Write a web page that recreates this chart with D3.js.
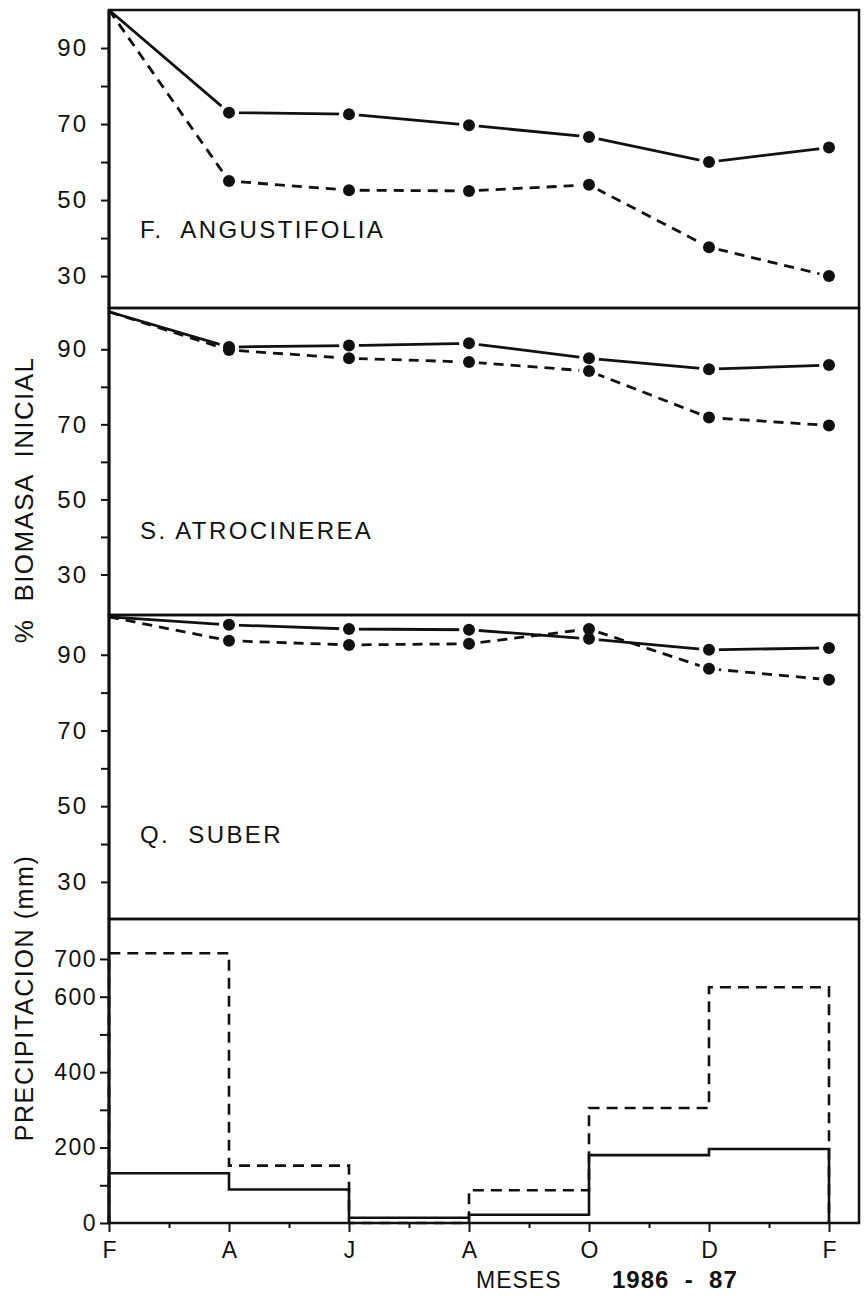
<!DOCTYPE html>
<html>
<head>
<meta charset="utf-8">
<script src="https://cdnjs.cloudflare.com/ajax/libs/d3/7.8.5/d3.min.js"></script>
<style>
  body { margin: 0; background: #fff; }
  svg text { font-family: "Liberation Sans", Arial, sans-serif; fill: #111; }
</style>
</head>
<body>
<div id="chart"></div>
<script>
// months since Feb 1986, one point every two months
var months = [0, 2, 4, 6, 8, 10, 12];
var monthLabels = ["F", "A", "J", "A", "O", "D", "F"];

// % biomasa inicial (solid / dashed)
var angSolid  = [100, 73.0, 72.6, 69.7, 66.6, 60.0, 63.8];
var angDashed = [100, 55.0, 52.6, 52.4, 54.0, 37.6, 30.0];
var atrSolid  = [100, 90.6, 91.0, 91.6, 87.6, 84.7, 85.8];
var atrDashed = [100, 89.8, 87.6, 86.6, 84.2, 71.8, 69.7];
var subSolid  = [100, 97.9, 96.8, 96.6, 94.2, 91.3, 91.8];
var subDashed = [100, 93.7, 92.6, 92.9, 96.8, 86.3, 83.4];

var species = ["F.  ANGUSTIFOLIA", "S. ATROCINEREA", "Q.  SUBER"];
var biomTicks = [30, 40, 50, 60, 70, 80, 90];
var biomLabels = [30, 50, 70, 90];

// precipitacion (mm) per two-month interval
var rainSolid  = [132, 89, 14, 22, 180, 196];
var rainDashed = [715, 152, 0, 87, 305, 625];
var rainTicks = [0, 100, 200, 300, 400, 500, 600, 700];
var rainLabels = [0, 200, 400, 600, 700];

var svgWidth = 867, svgHeight = 1302;
var left = 109, right = 859;

var svg = d3.select("#chart").append("svg")
  .attr("width", svgWidth)
  .attr("height", svgHeight);

var x = d3.scaleLinear().domain([0, 12]).range([left, left + 720]);

// three biomass panels + precipitation panel
var panels = [
  {top: 10,  bottom: 308, lo: 21.6, hi: 100,   solid: angSolid, dashed: angDashed, label: species[0], ly: 238},
  {top: 308, bottom: 615, lo: 19.2, hi: 101,   solid: atrSolid, dashed: atrDashed, label: species[1], ly: 539},
  {top: 615, bottom: 919, lo: 20.2, hi: 100.5, solid: subSolid, dashed: subDashed, label: species[2], ly: 843}
];

var lineGen = d3.line();

panels.forEach(function(p) {
  var y = d3.scaleLinear().domain([p.lo, p.hi]).range([p.bottom, p.top]);
  var g = svg.append("g");

  var axis = d3.axisLeft(y)
    .tickValues(biomTicks)
    .tickSize(8)
    .tickSizeOuter(0)
    .tickPadding(13)
    .tickFormat(function(d) { return biomLabels.indexOf(d) >= 0 ? d : ""; });

  var ax = g.append("g")
    .attr("transform", `translate(${left},0)`)
    .call(axis);
  ax.select(".domain").remove();
  ax.selectAll("line").attr("stroke", "#111").attr("stroke-width", 2);
  ax.selectAll("text")
    .attr("font-size", "24px")
    .attr("letter-spacing", "2px")
    .attr("font-family", "Liberation Sans, Arial, sans-serif")
    .attr("fill", "#111");

  // lines
  [["solid", p.solid], ["dashed", p.dashed]].forEach(function(s) {
    g.append("path")
      .attr("d", lineGen(months.map(function(m, i) { return [x(m), y(s[1][i])]; })))
      .attr("fill", "none")
      .attr("stroke", "#111")
      .attr("stroke-width", 2.8)
      .attr("stroke-dasharray", s[0] == "dashed" ? "10,7" : null);
  });

  // white halo then dots (no dot on the starting 100% point)
  var pts = [];
  months.forEach(function(m, i) {
    if (i > 0) {
      pts.push([m, p.solid[i]]);
      pts.push([m, p.dashed[i]]);
    }
  });
  g.selectAll(".halo").data(pts).enter().append("circle")
    .attr("cx", d => x(d[0])).attr("cy", d => y(d[1]))
    .attr("r", 10).attr("fill", "#fff");
  g.selectAll(".dot").data(pts).enter().append("circle")
    .attr("cx", d => x(d[0])).attr("cy", d => y(d[1]))
    .attr("r", 6).attr("fill", "#111");

  g.append("text")
    .attr("x", 140)
    .attr("y", p.ly)
    .attr("font-size", "24px")
    .attr("letter-spacing", "2.4px")
    .style("white-space", "pre")
    .text(p.label);

  g.append("rect")
    .attr("x", left).attr("y", p.top)
    .attr("width", right - left).attr("height", p.bottom - p.top)
    .attr("fill", "none").attr("stroke", "#111").attr("stroke-width", 2.5);
});

// precipitation panel
var rTop = 919, rBottom = 1223;
var yR = d3.scaleLinear().domain([0, 806]).range([rBottom, rTop]);

var rAxis = d3.axisLeft(yR)
  .tickValues(rainTicks)
  .tickSize(9)
  .tickSizeOuter(0)
  .tickPadding(3)
  .tickFormat(function(d) { return rainLabels.indexOf(d) >= 0 ? d : ""; });

var rax = svg.append("g")
  .attr("transform", `translate(${left},0)`)
  .call(rAxis);
rax.select(".domain").remove();
rax.selectAll("line").attr("stroke", "#111").attr("stroke-width", 2);
rax.selectAll("text")
  .attr("font-size", "23px")
  .attr("letter-spacing", "1.5px")
  .attr("font-family", "Liberation Sans, Arial, sans-serif")
  .attr("fill", "#111");

var xAxis = d3.axisBottom(x)
  .tickValues(d3.range(0, 13))
  .tickSize(8)
  .tickSizeOuter(0)
  .tickPadding(11)
  .tickFormat(function(d) { return d % 2 == 0 ? monthLabels[d / 2] : ""; });

var xax = svg.append("g")
  .attr("transform", `translate(0,${rBottom})`)
  .call(xAxis);
xax.select(".domain").remove();
xax.selectAll("line").attr("stroke", "#111").attr("stroke-width", 2)
  .attr("y2", d => d % 2 == 0 ? 9 : 5);
xax.selectAll("text")
  .attr("font-size", "23px")
  .attr("font-family", "Liberation Sans, Arial, sans-serif")
  .attr("fill", "#111");

// step outlines: start at baseline, one level per interval, back to baseline
function stepPoints(vals) {
  var pts = [[x(0), yR(0)]];
  vals.forEach(function(v, i) { pts.push([x(months[i]), yR(v)]); });
  pts.push([x(12), yR(0)]);
  return pts;
}
var stepGen = d3.line().curve(d3.curveStepAfter);

svg.append("path")
  .attr("d", stepGen(stepPoints(rainDashed)))
  .attr("fill", "none").attr("stroke", "#111")
  .attr("stroke-width", 2.6).attr("stroke-dasharray", "11,7");

svg.append("path")
  .attr("d", stepGen(stepPoints(rainSolid)))
  .attr("fill", "none").attr("stroke", "#111")
  .attr("stroke-width", 2.6);

svg.append("rect")
  .attr("x", left).attr("y", rTop)
  .attr("width", right - left).attr("height", rBottom - rTop)
  .attr("fill", "none").attr("stroke", "#111").attr("stroke-width", 2.5);

// left axis line a bit heavier
svg.append("line")
  .attr("x1", left).attr("x2", left)
  .attr("y1", 10).attr("y2", rBottom)
  .attr("stroke", "#111").attr("stroke-width", 3);

// axis titles
svg.append("text")
  .attr("transform", "translate(33, 500) rotate(-90)")
  .attr("text-anchor", "middle")
  .attr("font-size", "26px")
  .attr("letter-spacing", "1.4px")
  .style("white-space", "pre")
  .text("%  BIOMASA  INICIAL");

svg.append("text")
  .attr("transform", "translate(33, 998) rotate(-90)")
  .attr("text-anchor", "middle")
  .attr("font-size", "25px")
  .attr("letter-spacing", "1.6px")
  .text("PRECIPITACION (mm)");

svg.append("text")
  .attr("x", 476)
  .attr("y", 1288)
  .attr("font-size", "23px")
  .attr("letter-spacing", "1px")
  .text("MESES");

svg.append("text")
  .attr("x", 612)
  .attr("y", 1288)
  .attr("font-size", "24px")
  .attr("font-weight", "bold")
  .attr("letter-spacing", "1px")
  .style("white-space", "pre")
  .text("1986  -  87");
</script>
</body>
</html>
